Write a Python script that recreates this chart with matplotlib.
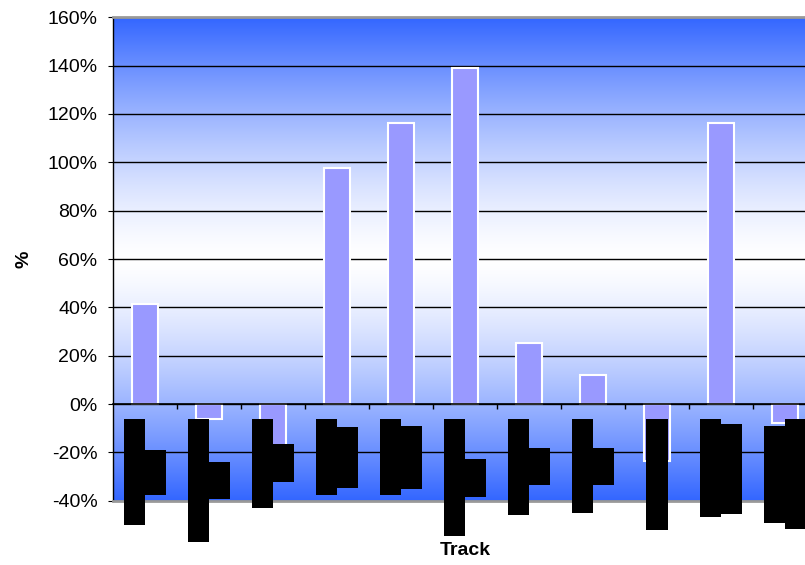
import numpy as np
import matplotlib.pyplot as plt

plt.rcParams['font.family'] = ['Liberation Sans', 'DejaVu Sans']

# percentage change per track
values = [41.4, -6.4, -23.0, 97.7, 116.4, 139.0, 25.3, 12.2, -23.6, 116.3, -7.8]
yticks = [-40, -20, 0, 20, 40, 60, 80, 100, 120, 140, 160]
ytick_labels = [f'{t}%' for t in yticks]

# track names under the axis come out as solid black blocks, two wrapped lines each
# (extent of each line in the same % units as the y axis)
line1_top = [-6.4, -6.4, -6.4, -6.4, -6.4, -6.4, -6.4, -6.4, -6.4, -6.4, -8.9]
line1_bottom = [-50.1, -57.1, -43.1, -37.8, -37.8, -54.6, -46.1, -45.2, -52.1, -46.9, -49.4]
line2_top = [-19.2, -23.8, -16.7, -9.7, -8.9, -22.9, -18.0, -18.0, np.nan, -8.1, -6.4]
line2_bottom = [-37.7, -39.5, -32.3, -34.8, -35.3, -38.6, -33.7, -33.7, np.nan, -45.7, -51.9]

x = np.arange(len(values))

fig = plt.figure(figsize=(8.05, 5.65), dpi=100)
ax = fig.add_axes([113 / 805, 64.3 / 565, 704 / 805, 483.4 / 565])
ax.set_xlim(-0.5, len(values) - 0.5)
ax.set_ylim(-40, 160)

# plot area fill: blue at top and bottom, fading to white in the middle
t = np.abs(np.linspace(-1, 1, 400))[:, None]
blue = np.array([51, 102, 255]) / 255
white = np.array([1.0, 1.0, 1.0])
grad = white + (blue - white) * t[..., None] ** 1.4
grad = np.repeat(grad, 2, axis=1)
ax.imshow(grad, extent=(-0.5, len(values) - 0.5, -40, 160), aspect='auto', zorder=0)

ax.yaxis.grid(True, color='black', linewidth=1)
ax.set_axisbelow(True)

ax.bar(x, values, width=0.4, color='#9999FF', edgecolor='white', linewidth=1.5, zorder=2)

# label blocks
has_two = ~np.isnan(line2_top)
x1 = np.where(has_two, x - 0.17, x)
ax.bar(x1, np.subtract(line1_bottom, line1_top), bottom=line1_top, width=0.33,
       color='black', clip_on=False, zorder=5)
ax.bar(x[has_two] + 0.17, np.subtract(line2_bottom, line2_top)[has_two],
       bottom=np.array(line2_top)[has_two], width=0.33,
       color='black', clip_on=False, zorder=5)

ax.set_yticks(yticks)
ax.set_yticklabels(ytick_labels, fontsize=14)
ax.tick_params(axis='y', direction='out', length=3.6, width=0.8, pad=7.5)

ax.set_xticks(np.arange(0.5, len(values) - 0.5, 1))
ax.set_xticklabels([])
ax.tick_params(axis='x', direction='out', length=3.6, width=1)

ax.spines['bottom'].set_position(('data', 0))
ax.spines['bottom'].set_linewidth(1.2)
ax.spines['left'].set_linewidth(1)
ax.spines['top'].set_color('#999999')
ax.spines['top'].set_linewidth(2)
ax.spines['right'].set_visible(False)
ax.axhline(-40, color='#999999', linewidth=2, clip_on=False, zorder=3)

ax.set_ylabel('%', fontsize=14, fontweight='bold', labelpad=11)
ax.text(0.5, -0.104, 'Track', transform=ax.transAxes, ha='center', va='center',
        fontsize=14, fontweight='bold')

fig.savefig('out.png', dpi=100)
